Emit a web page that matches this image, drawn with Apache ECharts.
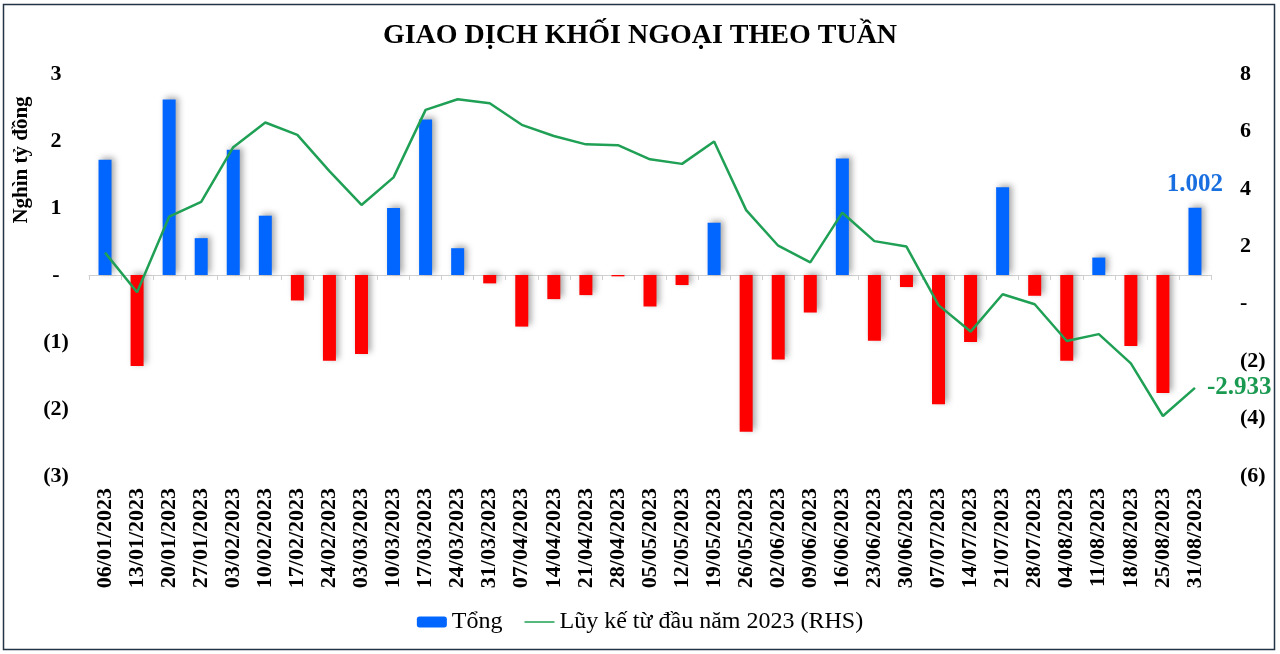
<!DOCTYPE html>
<html>
<head>
<meta charset="utf-8">
<script src="https://cdn.jsdelivr.net/npm/echarts@6/dist/echarts.min.js"></script>
<style>html,body{margin:0;padding:0;background:#fff}#c{width:1280px;height:654px}</style>
</head>
<body>
<div id="c"></div>
<script>
const categories = ['06/01/2023','13/01/2023','20/01/2023','27/01/2023','03/02/2023','10/02/2023','17/02/2023','24/02/2023','03/03/2023','10/03/2023','17/03/2023','24/03/2023','31/03/2023','07/04/2023','14/04/2023','21/04/2023','28/04/2023','05/05/2023','12/05/2023','19/05/2023','26/05/2023','02/06/2023','09/06/2023','16/06/2023','23/06/2023','30/06/2023','07/07/2023','14/07/2023','21/07/2023','28/07/2023','04/08/2023','11/08/2023','18/08/2023','25/08/2023','31/08/2023'];
const tong = [1.72,-1.36,2.62,0.55,1.87,0.885,-0.38,-1.28,-1.18,1.0,2.32,0.40,-0.125,-0.77,-0.36,-0.30,-0.02,-0.47,-0.15,0.78,-2.34,-1.26,-0.56,1.74,-0.98,-0.18,-1.93,-1.0,1.31,-0.31,-1.28,0.26,-1.06,-1.76,1.002];
const luyKe = [1.78,0.40,3.03,3.55,5.45,6.31,5.88,4.62,3.44,4.40,6.75,7.12,6.98,6.23,5.84,5.55,5.52,5.03,4.87,5.65,3.26,2.02,1.44,3.17,2.18,1.99,-0.05,-0.97,0.33,-0.02,-1.30,-1.06,-2.08,-3.91,-2.933];
const leftTicks = {min:-3, max:3, interval:1};
const rightTicks = {min:-6, max:8, interval:2};

const FONT = '"Liberation Serif","Times New Roman",serif';
const fmt = v => v === 0 ? '-' : (v < 0 ? '(' + Math.abs(v) + ')' : String(v));
const last = tong.length - 1;

const chart = echarts.init(document.getElementById('c'));
chart.setOption({
  animation: false,
  backgroundColor: '#fff',
  title: {
    text: 'GIAO DỊCH KHỐI NGOẠI THEO TUẦN',
    left: 'center', top: 17,
    textStyle: {fontFamily: FONT, fontWeight: 'bold', fontSize: 28, color: '#000'}
  },
  legend: {
    bottom: 15, left: 'center',
    itemWidth: 30, itemHeight: 11, itemGap: 22,
    textStyle: {fontFamily: FONT, fontSize: 24, color: '#000'},
    data: [
      {name: 'Tổng', itemStyle: {color: '#0066ff'}},
      {name: 'Lũy kế từ đầu năm 2023 (RHS)', icon: 'path://M0,5 L30,5 L30,6.5 L0,6.5 Z', itemStyle: {color: '#1fa055'}}
    ]
  },
  grid: {left: 89, right: 69, top: 74, bottom: 178},
  xAxis: [
    {
      type: 'category', data: categories, position: 'bottom',
      axisLine: {show: false}, axisTick: {show: false},
      axisLabel: {rotate: 90, interval: 0, margin: 12, fontFamily: FONT, fontWeight: 'bold', fontSize: 22, color: '#000'}
    },
    {
      type: 'category', data: categories, position: 'bottom',
      axisLine: {show: true, onZero: true, onZeroAxisIndex: 0, lineStyle: {color: '#d0d0d0', width: 1}},
      axisTick: {show: true, interval: 0, length: 5, lineStyle: {color: '#d0d0d0'}},
      axisLabel: {show: false}
    }
  ],
  yAxis: [
    {
      type: 'value', min: leftTicks.min, max: leftTicks.max, interval: leftTicks.interval,
      splitLine: {show: false}, axisLine: {show: false}, axisTick: {show: false},
      axisLabel: {formatter: fmt, align: 'center', margin: 33, fontFamily: FONT, fontWeight: 'bold', fontSize: 22, color: '#000'}
    },
    {
      type: 'value', min: rightTicks.min, max: rightTicks.max, interval: rightTicks.interval, position: 'right',
      splitLine: {show: false}, axisLine: {show: false}, axisTick: {show: false},
      axisLabel: {formatter: fmt, align: 'left', margin: 29, fontFamily: FONT, fontWeight: 'bold', fontSize: 22, color: '#000'}
    }
  ],
  graphic: [
    {type: 'rect', shape: {x: 3.5, y: 4.5, width: 1271, height: 645}, style: {fill: 'none', stroke: '#243447', lineWidth: 1.5}, z: 100},
    {type: 'text', x: 22, y: 160, rotation: Math.PI / 2,
      style: {text: 'Nghìn tỷ đồng', fontFamily: FONT, fontWeight: 'bold', fontSize: 21, fill: '#000', align: 'center', verticalAlign: 'middle'}}
  ],
  series: [
    {
      name: 'Tổng', type: 'bar', xAxisIndex: 0, yAxisIndex: 0, barWidth: 13,
      data: tong.map((v, i) => ({
        value: v,
        itemStyle: {color: v >= 0 ? '#0066ff' : '#ff0000'},
        label: i === last ? {show: true, position: 'top', distance: 11, formatter: () => v.toFixed(3), fontFamily: FONT, fontWeight: 'bold', fontSize: 25, color: '#1a6fe0'} : {show: false}
      })),
      itemStyle: {shadowBlur: 6, shadowColor: 'rgba(0,0,0,0.35)', shadowOffsetX: 3, shadowOffsetY: -2}
    },
    {
      name: 'Lũy kế từ đầu năm 2023 (RHS)', type: 'line', xAxisIndex: 0, yAxisIndex: 1,
      symbol: 'none', lineStyle: {color: '#1fa055', width: 2.5}, itemStyle: {color: '#1fa055'},
      endLabel: {show: true, distance: 12, formatter: p => p.value.toFixed(3), fontFamily: FONT, fontWeight: 'bold', fontSize: 25, color: '#1a9a50'},
      data: luyKe
    }
  ]
});
</script>
</body>
</html>
